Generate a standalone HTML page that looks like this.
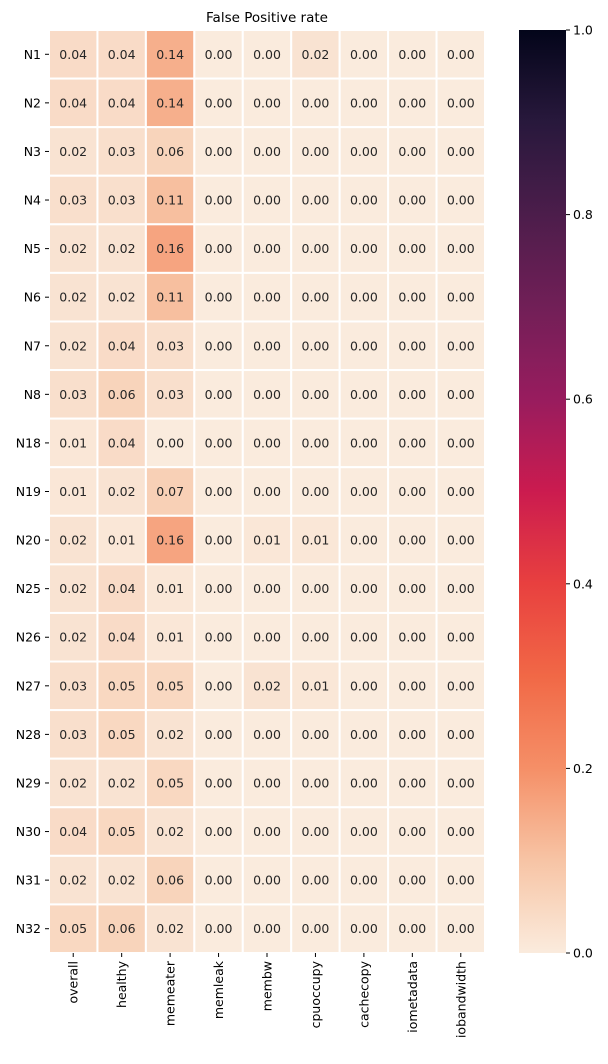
<!DOCTYPE html>
<html><head><meta charset="utf-8"><style>
body{margin:0;background:#fff;}
svg text{font-family:"DejaVu Sans","Liberation Sans",sans-serif;}
</style></head><body>
<svg id="chart" width="608" height="1059">
<defs><linearGradient id="cb" x1="0" y1="1" x2="0" y2="0"></linearGradient></defs>
<text x="267" y="22" font-size="13.5" text-anchor="middle">False Positive rate</text>
<g id="cells"></g><g id="yt"></g><g id="xt"></g>
<rect x="519" y="30" width="47" height="923" fill="url(#cb)"/>
<g id="cbt"></g>
</svg>
<script>
const rows=["N1","N2","N3","N4","N5","N6","N7","N8","N18","N19","N20","N25","N26","N27","N28","N29","N30","N31","N32"];
const cols=["overall","healthy","memeater","memleak","membw","cpuoccupy","cachecopy","iometadata","iobandwidth"];
const values=[
[0.04,0.04,0.14,0,0,0.02,0,0,0],
[0.04,0.04,0.14,0,0,0,0,0,0],
[0.02,0.03,0.06,0,0,0,0,0,0],
[0.03,0.03,0.11,0,0,0,0,0,0],
[0.02,0.02,0.16,0,0,0,0,0,0],
[0.02,0.02,0.11,0,0,0,0,0,0],
[0.02,0.04,0.03,0,0,0,0,0,0],
[0.03,0.06,0.03,0,0,0,0,0,0],
[0.01,0.04,0.00,0,0,0,0,0,0],
[0.01,0.02,0.07,0,0,0,0,0,0],
[0.02,0.01,0.16,0,0.01,0.01,0,0,0],
[0.02,0.04,0.01,0,0,0,0,0,0],
[0.02,0.04,0.01,0,0,0,0,0,0],
[0.03,0.05,0.05,0,0.02,0.01,0,0,0],
[0.03,0.05,0.02,0,0,0,0,0,0],
[0.02,0.02,0.05,0,0,0,0,0,0],
[0.04,0.05,0.02,0,0,0,0,0,0],
[0.02,0.02,0.06,0,0,0,0,0,0],
[0.05,0.06,0.02,0,0,0,0,0,0]];
const cbTicks=[0,0.2,0.4,0.6,0.8,1.0];
const L=49,T=30,W=436,H=923,cw=W/cols.length,ch=H/rows.length;
const stops=[[3,5,26],[40,24,60],[76,29,75],[113,31,87],[152,28,94],[203,27,79],[232,64,63],[241,104,70],[245,143,103],[247,196,165],[250,235,221]];
function rocket(t){t=Math.max(0,Math.min(1,t))*10;const i=Math.min(9,Math.floor(t)),f=t-i;const a=stops[i],b=stops[i+1];return `rgb(${a.map((v,k)=>Math.round(v+(b[k]-v)*f)).join(',')})`;}
function col(v){return rocket(1-v);}
const NS="http://www.w3.org/2000/svg";
function mk(t,a,p){const e=document.createElementNS(NS,t);for(const k in a)e.setAttribute(k,a[k]);p.appendChild(e);return e;}
const cg=document.getElementById('cells');
values.forEach((r,i)=>r.forEach((v,j)=>{
 const x=L+j*cw,y=T+i*ch;
 const rc=mk('rect',{x:x,y:y,width:cw,height:ch,fill:col(v),stroke:'#fff','stroke-width':2},cg);
 
 
 const t=mk('text',{x:x+cw/2,y:y+ch/2+4.5,'font-size':12.5,'text-anchor':'middle',fill:v>0.6?'#fff':'#262626'},cg);
 t.textContent=v.toFixed(2);
 
 
}));
const yg=document.getElementById('yt');
rows.forEach((r,i)=>{const y=T+(i+0.5)*ch;
 mk('line',{x1:L-4,x2:L,y1:y,y2:y,stroke:'#000'},yg);
 const t=mk('text',{x:L-8,y:y+4.5,'font-size':12.5,'text-anchor':'end'},yg);t.textContent=r;
 
 });
const xg=document.getElementById('xt');
cols.forEach((c,j)=>{const x=L+(j+0.5)*cw;
 mk('line',{x1:x,x2:x,y1:T+H,y2:T+H+4,stroke:'#000'},xg);
 const t=mk('text',{x:x+4.5,y:T+H+8,'font-size':12.5,'text-anchor':'end',transform:`rotate(-90 ${x+4.5} ${T+H+8})`},xg);t.textContent=c;
 
 });
const gr=document.getElementById('cb');
for(let k=0;k<=20;k++){mk('stop',{offset:k/20,'stop-color':col(k/20)},gr);}
const cbg=document.getElementById('cbt');
cbTicks.forEach(v=>{const y=T+H-v*H;
 mk('line',{x1:566,x2:570,y1:y,y2:y,stroke:'#000'},cbg);
 const t=mk('text',{x:573,y:y+4.5,'font-size':12.5},cbg);t.textContent=v.toFixed(1);
 
 });
</script>
</body></html>
